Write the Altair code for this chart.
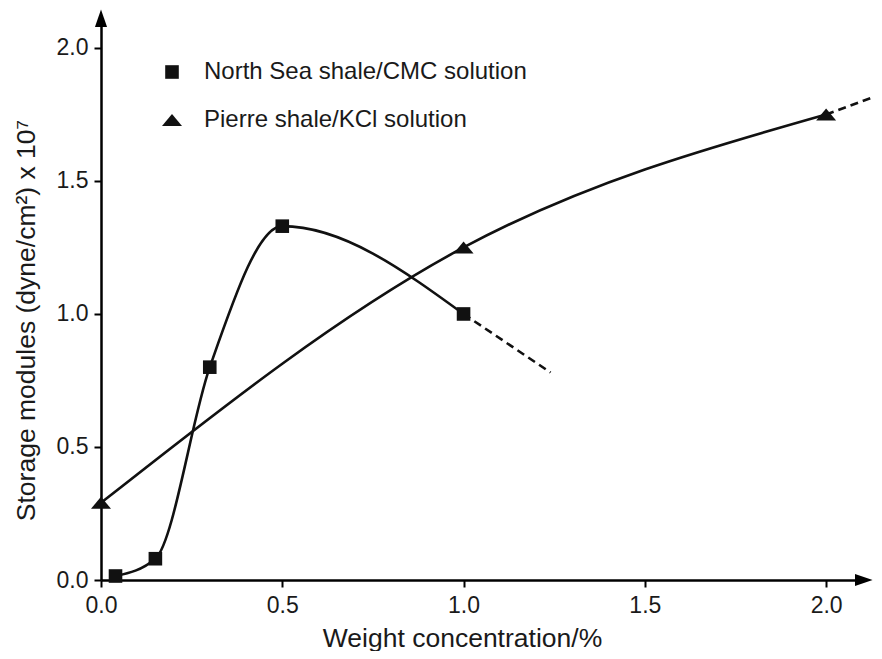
import altair as alt
import pandas as pd

# ---- data ----
series_names = ["North Sea shale/CMC solution", "Pierre shale/KCl solution"]

ns_x = [0.04, 0.15, 0.30, 0.50, 1.00]
ns_y = [0.015, 0.08, 0.80, 1.33, 1.00]

pierre_x = [0.00, 1.00, 2.00]
pierre_y = [0.29, 1.25, 1.75]

# dashed extrapolations
ns_ext_x = [1.00, 1.24]
ns_ext_y = [1.00, 0.78]
pierre_ext_x = [2.00, 2.13]
pierre_ext_y = [1.75, 1.815]

x_ticks = [0.0, 0.5, 1.0, 1.5, 2.0]
y_ticks = [0.0, 0.5, 1.0, 1.5, 2.0]

X_MAX = 2.11
Y_MAX = 2.12

FONT = "Liberation Sans"
INK = "#1a1a1a"

pts = pd.DataFrame({
    "x": ns_x + pierre_x,
    "y": ns_y + pierre_y,
    "series": [series_names[0]] * len(ns_x) + [series_names[1]] * len(pierre_x),
})
ext = pd.DataFrame({
    "x": ns_ext_x + pierre_ext_x,
    "y": ns_ext_y + pierre_ext_y,
    "series": [series_names[0]] * len(ns_ext_x) + [series_names[1]] * len(pierre_ext_x),
})
arrow_x = pd.DataFrame({"x": [X_MAX], "y": [0.0]})
arrow_y = pd.DataFrame({"x": [0.0], "y": [Y_MAX]})

SQUARE = "M-0.68,-0.68L0.68,-0.68L0.68,0.68L-0.68,0.68Z"
TRIANGLE = "M-1,0.6L1,0.6L0,-0.6Z"

xscale = alt.Scale(domain=[0, X_MAX], nice=False, zero=False)
yscale = alt.Scale(domain=[0, Y_MAX], nice=False, zero=False)

xaxis = alt.Axis(
    title="Weight concentration/%", values=x_ticks, format=".1f",
    grid=False, domainColor="black", domainWidth=2.5, tickColor="black",
    tickWidth=2, tickSize=7, labelFontSize=23, labelFont=FONT, labelColor=INK,
    labelPadding=7, labelFlush=False, titleFontSize=26.5, titleFont=FONT,
    titleFontWeight="normal", titleColor=INK, titleX=361, titlePadding=8,
)
yaxis = alt.Axis(
    title="Storage modules (dyne/cm²) x 10⁷", values=y_ticks, format=".1f",
    grid=False, domainColor="black", domainWidth=2.5, tickColor="black",
    tickWidth=2, tickSize=7, labelFontSize=23, labelFont=FONT, labelColor=INK,
    labelPadding=6, labelFlush=False, titleFontSize=26.5, titleFont=FONT,
    titleFontWeight="normal", titleColor=INK, titleY=304, titlePadding=16,
)

base_x = alt.X("x:Q", scale=xscale, axis=xaxis)
base_y = alt.Y("y:Q", scale=yscale, axis=yaxis)

lines = alt.Chart(pts).mark_line(
    interpolate="monotone", color="#111111", strokeWidth=2.6
).encode(x=base_x, y=base_y, detail="series:N")

dashed = alt.Chart(ext).mark_line(
    color="#111111", strokeWidth=2.6, strokeDash=[8, 5]
).encode(x="x:Q", y="y:Q", detail="series:N")

points = alt.Chart(pts).mark_point(
    filled=True, opacity=1, color="#111111", size=400, strokeWidth=0
).encode(
    x="x:Q", y="y:Q",
    shape=alt.Shape(
        "series:N",
        scale=alt.Scale(domain=series_names, range=[SQUARE, TRIANGLE]),
        legend=alt.Legend(
            title=None, orient="none", legendX=59, legendY=44,
            labelFontSize=24, labelFont=FONT, labelColor=INK,
            symbolSize=400, symbolFillColor="#111111", symbolStrokeWidth=0,
            rowPadding=24, labelOffset=20, padding=0, labelLimit=600,
        ),
    ),
)

arrx = alt.Chart(arrow_x).mark_point(
    shape="M0.6,0L-1,0.55L-1,-0.55Z", filled=True, opacity=1,
    color="black", size=484, strokeWidth=0
).encode(x="x:Q", y="y:Q")

arry = alt.Chart(arrow_y).mark_point(
    shape="M0,-0.6L0.55,1L-0.55,1Z", filled=True, opacity=1,
    color="black", size=484, strokeWidth=0
).encode(x="x:Q", y="y:Q")

chart = alt.layer(lines, dashed, points, arrx, arry).properties(
    width=765, height=564,
    background="white",
    autosize=alt.AutoSizeParams(type="none"),
    padding={"left": 93, "top": 8, "right": 8, "bottom": 71},
).configure_view(stroke=None, strokeWidth=0)

chart.save("out.html", embed_options={"renderer": "svg", "actions": False})
